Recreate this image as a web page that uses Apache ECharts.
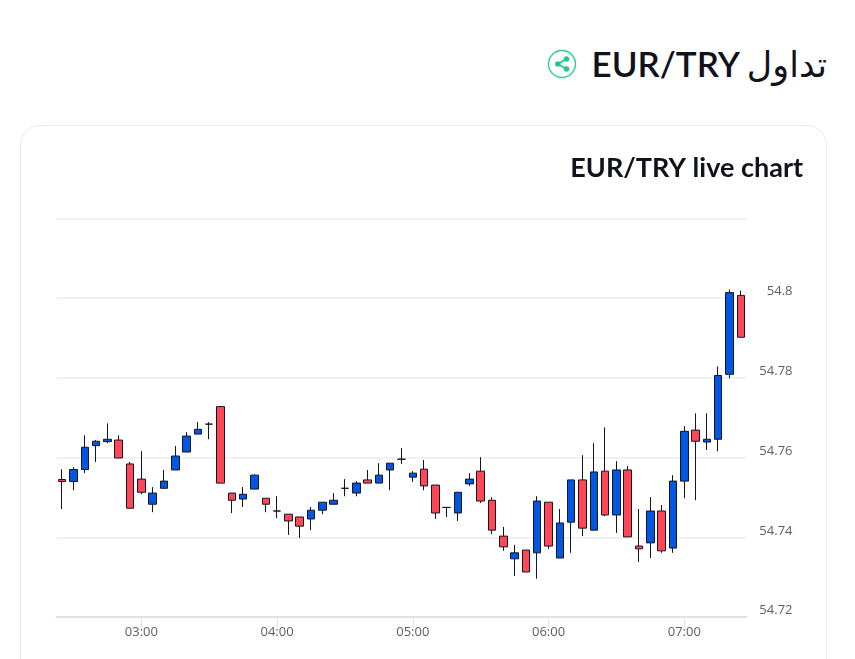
<!DOCTYPE html>
<html lang="ar">
<head>
<meta charset="utf-8">
<script src="https://cdn.jsdelivr.net/npm/echarts@6/dist/echarts.min.js"></script>
<style>
html,body{margin:0;padding:0;background:#fff;width:855px;height:659px;overflow:hidden}
#card{position:absolute;left:20px;top:125px;width:805px;height:600px;border:1px solid #e6e7f1;border-radius:20px;box-sizing:content-box}
#head{position:absolute;right:28px;top:38px;margin:0;font:600 35px/50px Lato,"DejaVu Sans",sans-serif;color:#11121c;white-space:nowrap}
#head .ar{font-family:"DejaVu Sans",sans-serif;font-weight:400;font-size:35px;margin-left:-2px}
#share{position:absolute;left:547px;top:49px}
#chart{position:absolute;left:0;top:0;width:855px;height:659px}
</style>
</head>
<body>
<div id="card"></div>
<h1 id="head" dir="rtl"><span class="ar">تداول</span> EUR/TRY</h1>
<svg id="share" width="30" height="30" viewBox="0 0 30 30">
<circle cx="15" cy="15" r="13.5" fill="none" stroke="#2fcf8d" stroke-width="1.4"/>
<path d="M19 10 L11 15 L19 20" fill="none" stroke="#1fc983" stroke-width="1.6"/>
<circle cx="19.5" cy="10" r="2.7" fill="#1fc983"/><circle cx="10.8" cy="15" r="2.7" fill="#1fc983"/><circle cx="19.5" cy="20" r="2.7" fill="#1fc983"/>
</svg>
<div id="chart"></div>
<script>
const times = ["02:25","02:30","02:35","02:40","02:45","02:50","02:55","03:00","03:05","03:10","03:15","03:20","03:25","03:30","03:35","03:40","03:45","03:50","03:55","04:00","04:05","04:10","04:15","04:20","04:25","04:30","04:35","04:40","04:45","04:50","04:55","05:00","05:05","05:10","05:15","05:20","05:25","05:30","05:35","05:40","05:45","05:50","05:55","06:00","06:05","06:10","06:15","06:20","06:25","06:30","06:35","06:40","06:45","06:50","06:55","07:00","07:05","07:10","07:15","07:20","07:25"];
const opens = [54.7545,54.7540,54.7570,54.7630,54.7640,54.7644,54.7584,54.7546,54.7483,54.7523,54.7569,54.7614,54.7659,54.7684,54.7728,54.7511,54.7496,54.7521,54.7498,54.7466,54.7458,54.7451,54.7446,54.7468,54.7483,54.7523,54.7511,54.7544,54.7536,54.7569,54.7596,54.7551,54.7571,54.7531,54.7475,54.7461,54.7534,54.7566,54.7493,54.7403,54.7346,54.7368,54.7361,54.7488,54.7348,54.7438,54.7544,54.7418,54.7566,54.7456,54.7569,54.7378,54.7386,54.7466,54.7373,54.7541,54.7669,54.7639,54.7646,54.7809,54.8007];
const closes = [54.7540,54.7570,54.7626,54.7641,54.7646,54.7599,54.7473,54.7513,54.7511,54.7541,54.7604,54.7654,54.7671,54.7684,54.7536,54.7493,54.7508,54.7556,54.7483,54.7466,54.7441,54.7428,54.7468,54.7488,54.7493,54.7523,54.7536,54.7536,54.7556,54.7586,54.7596,54.7561,54.7529,54.7461,54.7475,54.7513,54.7546,54.7491,54.7418,54.7376,54.7361,54.7313,54.7491,54.7378,54.7436,54.7544,54.7423,54.7564,54.7456,54.7569,54.7401,54.7371,54.7466,54.7366,54.7541,54.7666,54.7641,54.7646,54.7806,54.8014,54.7902];
const lows = [54.7471,54.7518,54.7561,54.7589,54.7636,54.7599,54.7473,54.7508,54.7463,54.7523,54.7569,54.7614,54.7659,54.7646,54.7536,54.7461,54.7476,54.7521,54.7463,54.7448,54.7406,54.7398,54.7418,54.7458,54.7483,54.7503,54.7503,54.7536,54.7536,54.7518,54.7584,54.7539,54.7518,54.7446,54.7451,54.7441,54.7529,54.7486,54.7408,54.7366,54.7303,54.7313,54.7296,54.7371,54.7348,54.7361,54.7403,54.7418,54.7453,54.7411,54.7401,54.7338,54.7348,54.7361,54.7361,54.7498,54.7493,54.7619,54.7616,54.7799,54.7902];
const highs = [54.7571,54.7576,54.7656,54.7644,54.7686,54.7656,54.7589,54.7616,54.7526,54.7569,54.7629,54.7664,54.7689,54.7689,54.7728,54.7511,54.7526,54.7558,54.7498,54.7503,54.7458,54.7451,54.7476,54.7488,54.7511,54.7546,54.7541,54.7569,54.7586,54.7586,54.7624,54.7566,54.7594,54.7531,54.7476,54.7513,54.7561,54.7601,54.7501,54.7426,54.7381,54.7368,54.7503,54.7488,54.7471,54.7544,54.7606,54.7636,54.7676,54.7591,54.7579,54.7471,54.7501,54.7481,54.7556,54.7679,54.7711,54.7711,54.7829,54.8022,54.8019];
const candles = times.map((_, i) => [opens[i], closes[i], lows[i], highs[i]]);
const onHour = (i) => (i - 7) % 12 === 0;

const chart = echarts.init(document.getElementById('chart'), null, {renderer:'canvas'});
chart.setOption({
  animation:false,
  backgroundColor:'transparent',
  title:{text:'EUR/TRY live chart',right:47,top:150,textStyle:{fontFamily:'Lato, sans-serif',fontSize:27,fontWeight:700,color:'#11121c'}},
  grid:{left:56.5,right:108.5,top:218.5,bottom:42},
  xAxis:{
    type:'category',data:times,boundaryGap:true,
    axisLine:{lineStyle:{color:'#dfe1ef',width:2}},
    axisTick:{show:true,length:10,alignWithLabel:true,interval:onHour,lineStyle:{color:'#dfe1ef',width:1}},
    axisLabel:{interval:onHour,margin:9,color:'#5f5f5f',fontFamily:'Open Sans, sans-serif',fontSize:13},
    splitLine:{show:false}
  },
  yAxis:{
    type:'value',position:'right',scale:false,min:54.72,max:54.82,interval:0.02,
    axisLine:{show:false},axisTick:{show:false},
    axisLabel:{showMaxLabel:false,align:'right',verticalAlign:'bottom',margin:46,color:'#5f5f5f',fontFamily:'Open Sans, sans-serif',fontSize:13},
    splitLine:{show:true,lineStyle:{color:'#ececef',width:1.5}}
  },
  series:[{
    type:'candlestick',data:candles,barWidth:8,silent:true,
    itemStyle:{color:'#0057e4',color0:'#ff4757',borderColor:'#14161f',borderColor0:'#14161f',borderColorDoji:'#14161f',borderWidth:1}
  }]
});
</script>
</body>
</html>
